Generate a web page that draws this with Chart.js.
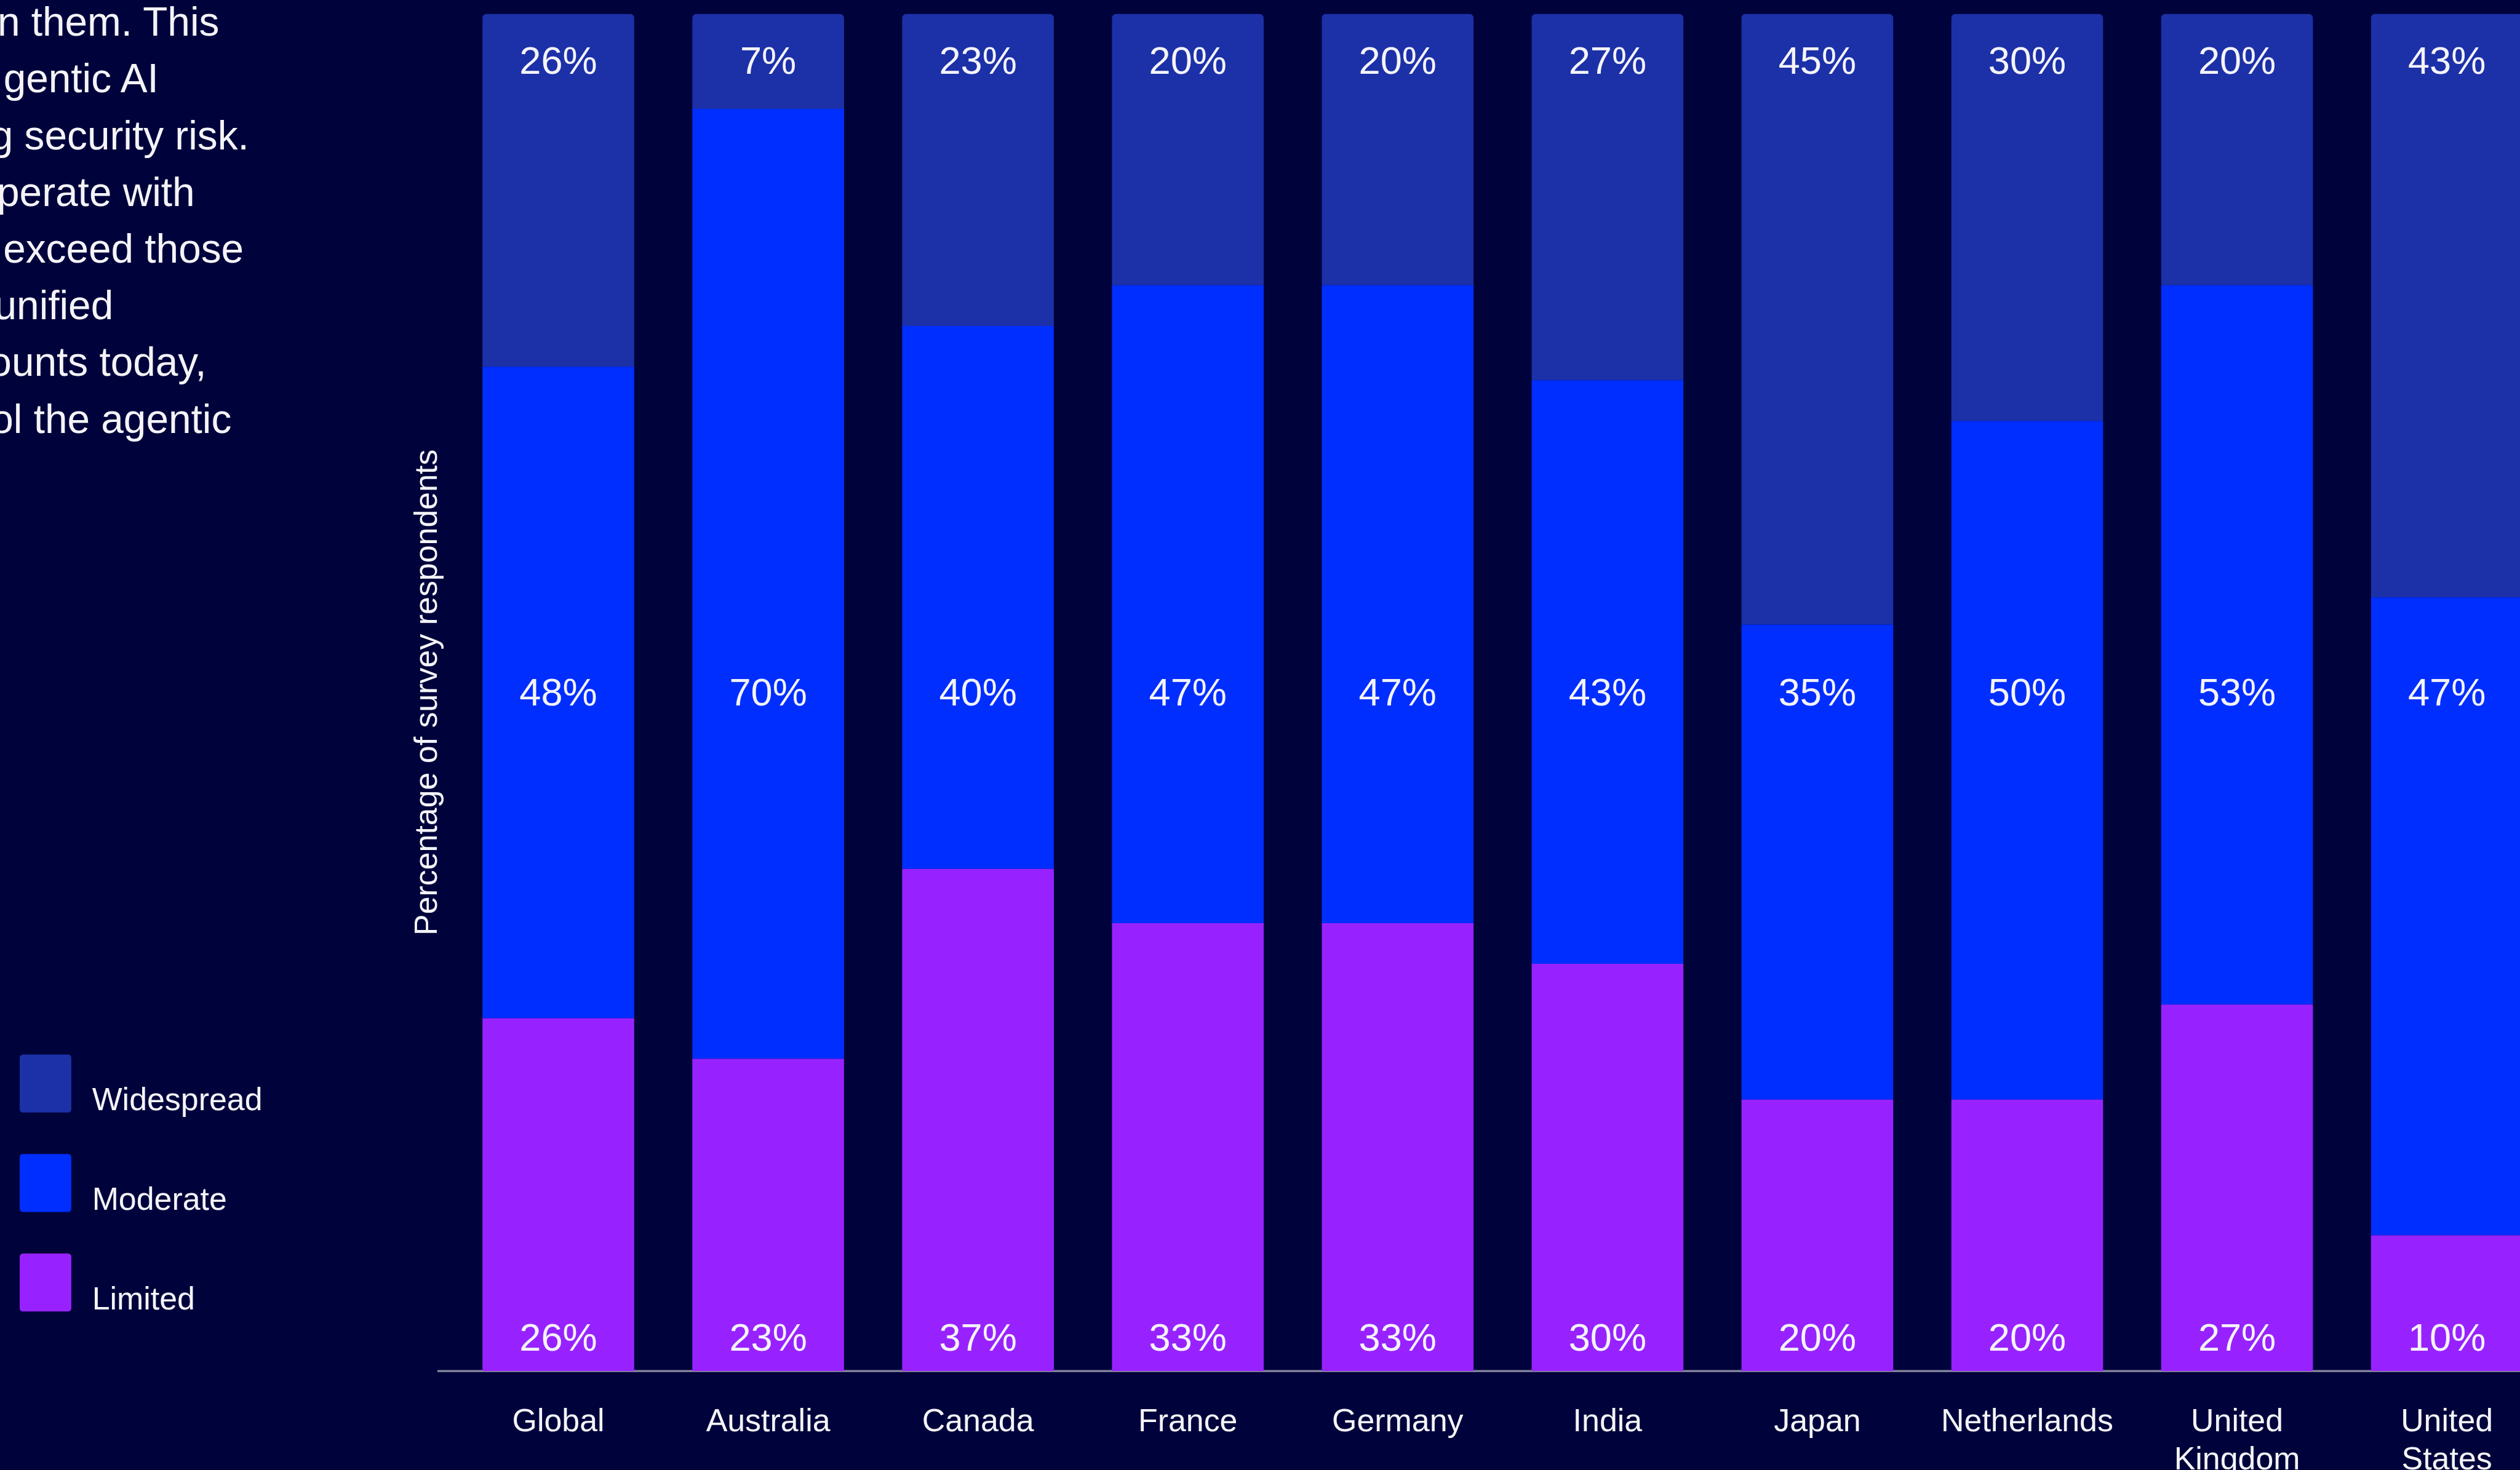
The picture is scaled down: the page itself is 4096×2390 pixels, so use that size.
<!DOCTYPE html>
<html>
<head>
<meta charset="utf-8">
<title>Agentic AI risk by country</title>
<script src="https://cdn.jsdelivr.net/npm/chart.js@4.4.1/dist/chart.umd.min.js"></script>
<style>
  html, body {
    margin: 0;
    padding: 0;
    width: 4096px;
    height: 2390px;
    overflow: hidden;
    background: #00033b;
  }
  #wrap {
    position: absolute;
    left: 0;
    top: 0;
    width: 4200px;
    height: 2390px;
  }
  .intro {
    position: absolute;
    white-space: nowrap;
    font-family: 'Liberation Sans', Arial, sans-serif;
    color: #f4f4f8;
    line-height: 1;
  }
</style>
</head>
<body>
<div id="wrap"><canvas id="chart" width="4200" height="2390"></canvas></div>
<div id="intro"></div>
<script>
// Data
const categories = ['Global', 'Australia', 'Canada', 'France', 'Germany', 'India', 'Japan', 'Netherlands', ['United', 'Kingdom'], ['United', 'States']];
const widespread = [26, 7, 23, 20, 20, 27, 45, 30, 20, 43];
const moderate = [48, 70, 40, 47, 47, 43, 35, 50, 53, 47];
const limited = [26, 23, 37, 33, 33, 30, 20, 20, 27, 10];
const axisTitle = 'Percentage of survey respondents';

// Cut-off paragraph text at the top left of the page
const introLines = ['n them. This', 'gentic AI', 'g security risk.', 'perate with', 'exceed those', 'unified', 'ounts today,', 'ol the agentic'];

// =========================
// LAYOUT (reference px, scaled by S)
// =========================
const S = 0.865;
const FONT = "'Liberation Sans', Arial, sans-serif";
const TEXT = '#f4f4f8';
const COLORS = { widespread: '#1c30a8', moderate: '#002eff', limited: '#9822ff' };

const canvasW = 4200;
const canvasH = 2390;
const areaLeft = 852 * S;
const areaRight = 4795 * S;
const areaTop = 26 * S;
const areaBottom = 2577 * S;

// intro text: right end of each line and its baseline
const introEnds = [412, 298, 468, 366, 458, 213, 388, 435];
const introSize = 76 * S;
const introDiv = document.getElementById('intro');
introLines.forEach((line, i) => {
  const el = document.createElement('div');
  el.className = 'intro';
  el.textContent = line;
  el.style.fontSize = introSize + 'px';
  el.style.right = (4096 - introEnds[i] * S) + 'px';
  const baseline = (68 + i * 106.6) * S;
  el.style.top = (baseline - 0.8465 * introSize) + 'px';
  introDiv.appendChild(el);
});

// =========================
// PLUGINS
// =========================

// baseline under the bars
const baselinePlugin = {
  id: 'baseline',
  beforeDatasetsDraw(chart) {
    const { ctx, chartArea, scales } = chart;
    const y = scales.y.getPixelForValue(0);
    ctx.save();
    ctx.strokeStyle = '#8a8aa3';
    ctx.lineWidth = 4 * S;
    ctx.beginPath();
    ctx.moveTo(chartArea.left - 30 * S, y);
    ctx.lineTo(chart.width, y);
    ctx.stroke();
    ctx.restore();
  }
};

// percentage labels: bottom, middle and top rows at fixed heights
const labelLevels = [2.3, 49.85, 96.35];
const valueLabelPlugin = {
  id: 'valueLabels',
  afterDatasetsDraw(chart) {
    const { ctx, scales } = chart;
    ctx.save();
    ctx.fillStyle = TEXT;
    ctx.font = (73 * S) + 'px ' + FONT;
    ctx.textAlign = 'center';
    ctx.textBaseline = 'middle';
    chart.data.datasets.forEach((ds, di) => {
      const meta = chart.getDatasetMeta(di);
      const y = scales.y.getPixelForValue(labelLevels[di]);
      meta.data.forEach((bar, i) => {
        ctx.fillText(ds.data[i] + '%', bar.x, y);
      });
    });
    ctx.restore();
  }
};

// legend in the bottom left corner, top to bottom: Widespread, Moderate, Limited
const legendPlugin = {
  id: 'sideLegend',
  afterDraw(chart) {
    const { ctx } = chart;
    const order = chart.data.datasets.slice().reverse();
    const boxTops = [1982, 2169, 2356];
    ctx.save();
    ctx.font = (60 * S) + 'px ' + FONT;
    ctx.textAlign = 'left';
    ctx.textBaseline = 'alphabetic';
    order.forEach((ds, i) => {
      const x = 37 * S;
      const y = boxTops[i] * S;
      const w = 97 * S;
      const h = 109 * S;
      ctx.fillStyle = ds.backgroundColor;
      ctx.beginPath();
      ctx.roundRect(x, y, w, h, 6 * S);
      ctx.fill();
      ctx.fillStyle = TEXT;
      ctx.fillText(ds.label, 173 * S, y + h - 4 * S);
    });
    ctx.restore();
  }
};

// =========================
// CHART
// =========================
const ctx = document.getElementById('chart').getContext('2d');
const topRadius = { topLeft: 8 * S, topRight: 8 * S, bottomLeft: 0, bottomRight: 0 };

new Chart(ctx, {
  type: 'bar',
  data: {
    labels: categories,
    datasets: [
      { label: 'Limited', data: limited, backgroundColor: COLORS.limited },
      { label: 'Moderate', data: moderate, backgroundColor: COLORS.moderate },
      { label: 'Widespread', data: widespread, backgroundColor: COLORS.widespread, borderRadius: topRadius, borderSkipped: 'start' }
    ]
  },
  options: {
    responsive: false,
    animation: false,
    devicePixelRatio: 1,
    layout: {
      padding: { left: 0, right: canvasW - areaRight, top: areaTop, bottom: 0 }
    },
    datasets: {
      bar: {
        categoryPercentage: 1,
        barPercentage: 0.723,
        borderWidth: 0,
        inflateAmount: 0
      }
    },
    plugins: {
      legend: { display: false },
      tooltip: { enabled: false }
    },
    scales: {
      x: {
        stacked: true,
        grid: { display: false },
        border: { display: false },
        ticks: {
          color: TEXT,
          font: { family: FONT, size: 60 * S, lineHeight: 1.2 },
          padding: 44,
          autoSkip: false,
          maxRotation: 0,
          minRotation: 0
        },
        afterFit: (scale) => { scale.height = canvasH - areaBottom; }
      },
      y: {
        stacked: true,
        min: 0,
        max: 100,
        grid: { display: false },
        border: { display: false },
        ticks: { display: false },
        title: {
          display: true,
          text: axisTitle,
          color: TEXT,
          font: { family: FONT, size: 60 * S },
          padding: { top: 665, bottom: 0 }
        },
        afterFit: (scale) => { scale.width = areaLeft; }
      }
    }
  },
  plugins: [baselinePlugin, valueLabelPlugin, legendPlugin]
});
</script>
</body>
</html>
